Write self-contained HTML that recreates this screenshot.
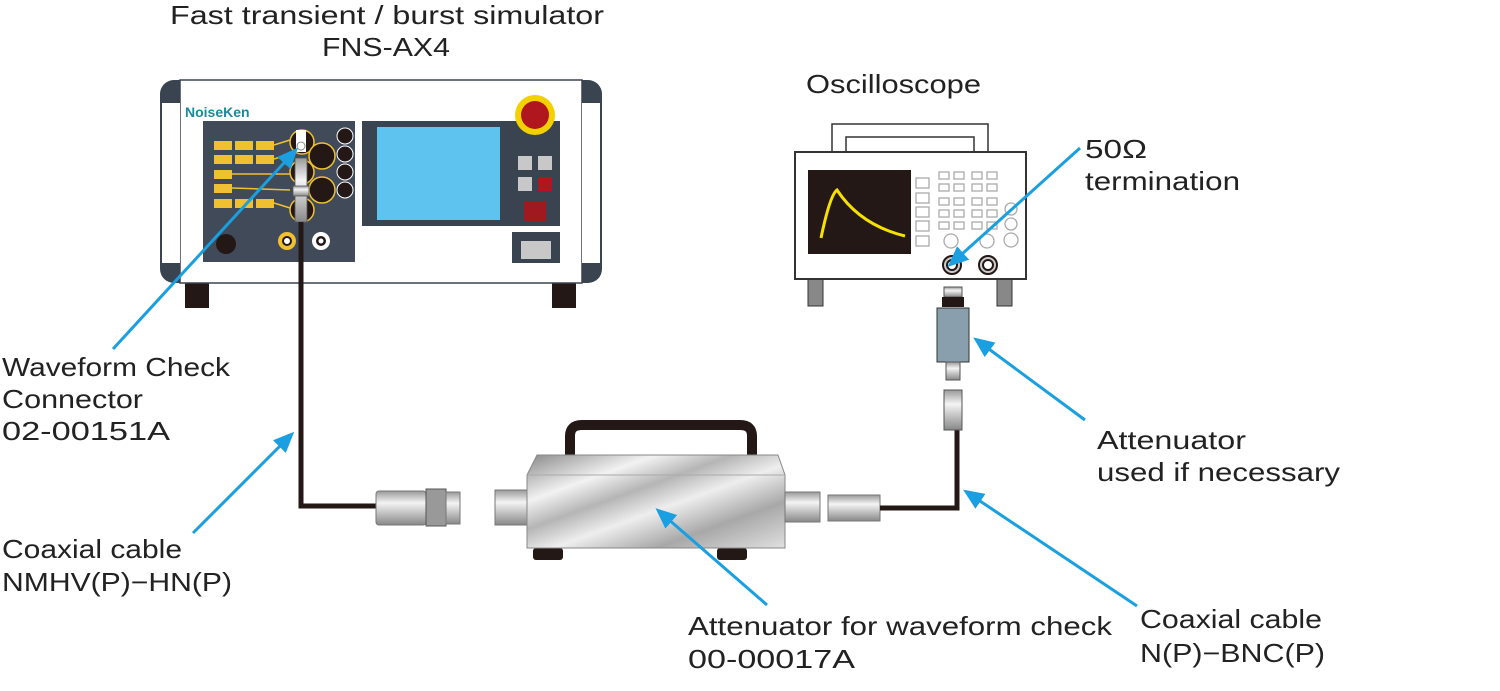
<!DOCTYPE html>
<html><head><meta charset="utf-8"><style>
html,body{margin:0;padding:0;background:#fff;}
svg{display:block;}
text{font-family:"Liberation Sans",sans-serif;font-size:26px;fill:#222;}
</style></head><body>
<svg width="1500" height="691" viewBox="0 0 1500 691" xmlns="http://www.w3.org/2000/svg">
<defs>
<linearGradient id="met" x1="0" y1="0" x2="1" y2="1">
<stop offset="0" stop-color="#8a8a8a"/><stop offset="0.25" stop-color="#f2f2f2"/><stop offset="0.4" stop-color="#b5b5b5"/><stop offset="0.55" stop-color="#eee"/><stop offset="0.75" stop-color="#a8a8a8"/><stop offset="1" stop-color="#e0e0e0"/>
</linearGradient>
<linearGradient id="cyl" x1="0" y1="0" x2="0" y2="1">
<stop offset="0" stop-color="#999"/><stop offset="0.35" stop-color="#f4f4f4"/><stop offset="1" stop-color="#888"/>
</linearGradient>
<marker id="ah" markerWidth="7" markerHeight="6" refX="5" refY="3" orient="auto" markerUnits="strokeWidth">
<path d="M0,0 L7,3 L0,6 Z" fill="#1a9fe0"/></marker>
</defs>

<!-- labels -->
<g style="font-size:27px" lengthAdjust="spacingAndGlyphs">
<text x="170" y="24" textLength="434" lengthAdjust="spacingAndGlyphs">Fast transient / burst simulator</text>
<text x="322" y="56" textLength="128" lengthAdjust="spacingAndGlyphs">FNS-AX4</text>
<text x="806" y="93" textLength="175" lengthAdjust="spacingAndGlyphs">Oscilloscope</text>
<text x="1085" y="158" textLength="62" lengthAdjust="spacingAndGlyphs">50Ω</text>
<text x="1085" y="190" textLength="155" lengthAdjust="spacingAndGlyphs">termination</text>
<text x="2" y="376" textLength="228" lengthAdjust="spacingAndGlyphs">Waveform Check</text>
<text x="2" y="408" textLength="141" lengthAdjust="spacingAndGlyphs">Connector</text>
<text x="2" y="440" textLength="168" lengthAdjust="spacingAndGlyphs">02-00151A</text>
<text x="2" y="558" textLength="180" lengthAdjust="spacingAndGlyphs">Coaxial cable</text>
<text x="2" y="591" textLength="230" lengthAdjust="spacingAndGlyphs">NMHV(P)−HN(P)</text>
<text x="688" y="635" textLength="424" lengthAdjust="spacingAndGlyphs">Attenuator for waveform check</text>
<text x="688" y="668" textLength="167" lengthAdjust="spacingAndGlyphs">00-00017A</text>
<text x="1140" y="628" textLength="182" lengthAdjust="spacingAndGlyphs">Coaxial cable</text>
<text x="1140" y="662" textLength="185" lengthAdjust="spacingAndGlyphs">N(P)−BNC(P)</text>
<text x="1097" y="449" textLength="149" lengthAdjust="spacingAndGlyphs">Attenuator</text>
<text x="1097" y="481" textLength="243" lengthAdjust="spacingAndGlyphs">used if necessary</text>
</g>

<!-- simulator -->
<rect x="185" y="282" width="24" height="26" fill="#231815"/>
<rect x="552" y="282" width="24" height="26" fill="#231815"/>
<rect x="160" y="80" width="442" height="203" rx="14" fill="#3a4350"/>
<rect x="180" y="80" width="402" height="203" fill="#fff" stroke="#3a4350" stroke-width="1.5"/>
<rect x="162" y="103" width="18" height="160" fill="#fff"/>
<rect x="582" y="103" width="18" height="160" fill="#fff"/>
<text x="185" y="117" style="font-size:14px;font-weight:bold;fill:#1b8a9a">NoiseKen</text>
<rect x="203" y="121" width="152" height="141" fill="#404a58"/>
<g fill="#f0c030">
<rect x="214" y="141" width="18" height="9"/><rect x="235" y="141" width="18" height="9"/><rect x="256" y="141" width="18" height="9"/>
<rect x="214" y="155" width="18" height="9"/><rect x="235" y="155" width="18" height="9"/><rect x="256" y="155" width="18" height="9"/>
<rect x="214" y="170" width="18" height="9"/><rect x="214" y="184" width="18" height="9"/>
<rect x="214" y="199" width="18" height="9"/><rect x="235" y="199" width="18" height="9"/><rect x="256" y="199" width="18" height="9"/>
</g>
<path d="M274,145 L290,140 M274,159 L290,154 M232,174 L290,174 M232,188 L290,190 M274,203 L290,208" stroke="#f0c030" stroke-width="1.5" fill="none"/>
<g fill="#231815" stroke="#f0c030" stroke-width="1.5">
<circle cx="302" cy="142" r="12"/><circle cx="322" cy="156" r="13"/><circle cx="302" cy="172" r="12"/><circle cx="322" cy="190" r="13"/><circle cx="302" cy="210" r="12"/>
</g>
<g fill="#231815" stroke="#fff" stroke-width="1"><circle cx="345" cy="136" r="8"/><circle cx="345" cy="154" r="8"/><circle cx="345" cy="172" r="8"/><circle cx="345" cy="190" r="8"/></g>
<circle cx="226" cy="244" r="10" fill="#231815"/>
<circle cx="287" cy="241" r="9" fill="#f0c030"/><circle cx="287" cy="241" r="4" fill="#fff" stroke="#231815" stroke-width="2"/>
<circle cx="321" cy="241" r="9" fill="#fff"/><circle cx="321" cy="241" r="5" fill="#231815"/><circle cx="321" cy="241" r="2.5" fill="#fff"/>
<rect x="296" y="130" width="10" height="22" fill="#fff"/><circle cx="301" cy="146" r="4" fill="#fff" stroke="#888"/>
<rect x="295" y="158" width="12" height="64" fill="url(#cyl)" stroke="#555" stroke-width="0.8"/>
<rect x="293" y="186" width="16" height="10" fill="url(#cyl)" stroke="#555" stroke-width="0.8"/>
<rect x="362" y="121" width="198" height="105" fill="#3a4350"/>
<rect x="377" y="127" width="123" height="93" fill="#5ec4ef"/>
<circle cx="535" cy="115" r="20" fill="#f3d000"/><circle cx="535" cy="115" r="14" fill="#b0161e"/>
<rect x="518" y="156" width="14" height="14" fill="#c8c8c8"/><rect x="538" y="156" width="14" height="14" fill="#c8c8c8"/>
<rect x="518" y="177" width="14" height="14" fill="#c8c8c8"/><rect x="538" y="177" width="14" height="14" fill="#b0161e"/>
<rect x="524" y="201" width="22" height="20" fill="#a01820"/>
<rect x="512" y="232" width="48" height="31" fill="#3a4350"/><rect x="521" y="241" width="30" height="18" fill="#c8c8c8"/>

<!-- left cable -->
<path d="M301,222 L301,506 L378,506" stroke="#231815" stroke-width="5" fill="none"/>
<rect x="376" y="491" width="50" height="34" rx="3" fill="url(#cyl)" stroke="#777"/>
<rect x="426" y="489" width="20" height="37" fill="#999" stroke="#555"/>
<rect x="446" y="492" width="14" height="32" fill="url(#cyl)" stroke="#777"/>

<!-- attenuator -->
<path d="M570,462 L570,436 Q570,425 582,425 L740,425 Q752,425 752,436 L752,462" stroke="#231815" stroke-width="10" fill="none"/>
<rect x="533" y="548" width="30" height="12" rx="3" fill="#231815"/><rect x="717" y="548" width="30" height="12" rx="3" fill="#231815"/>
<rect x="495" y="490" width="35" height="35" fill="url(#cyl)" stroke="#777"/>
<path d="M537,455 L778,455 L785,475 L785,548 L527,548 L527,475 Z" fill="url(#met)" stroke="#888"/>
<line x1="527" y1="475" x2="785" y2="475" stroke="#aaa"/>
<rect x="785" y="492" width="35" height="30" fill="url(#cyl)" stroke="#777"/>
<rect x="828" y="495" width="52" height="26" fill="url(#cyl)" stroke="#777"/>
<path d="M880,508 L957,508 L957,430" stroke="#231815" stroke-width="5" fill="none"/>

<!-- oscilloscope -->
<rect x="808" y="278" width="15" height="28" fill="#888" stroke="#333"/><rect x="997" y="278" width="15" height="28" fill="#888" stroke="#333"/>
<path d="M832,152 L832,124 L988,124 L988,152 M846,152 L846,137 L974,137 L974,152" stroke="#333" stroke-width="1.5" fill="none"/>
<rect x="795" y="152" width="231" height="127" fill="#fff" stroke="#333" stroke-width="2"/>
<rect x="808" y="170" width="103" height="84" fill="#231815"/>
<path d="M821,238 Q830,195 837,190 Q860,225 905,236" stroke="#f5e000" stroke-width="3" fill="none"/>
<g fill="none" stroke="#aaa" stroke-width="1.3">
<rect x="916" y="178" width="13" height="10"/><rect x="916" y="193" width="13" height="10"/><rect x="916" y="207" width="13" height="10"/><rect x="916" y="221" width="13" height="10"/><rect x="916" y="236" width="13" height="10"/>
<rect x="939" y="172" width="10" height="7"/><rect x="954" y="172" width="10" height="7"/><rect x="972" y="172" width="10" height="7"/><rect x="987" y="172" width="10" height="7"/>
<rect x="939" y="184" width="10" height="7"/><rect x="954" y="184" width="10" height="7"/><rect x="972" y="184" width="10" height="7"/><rect x="987" y="184" width="10" height="7"/>
<rect x="939" y="198" width="10" height="7"/><rect x="954" y="198" width="10" height="7"/><rect x="972" y="198" width="10" height="7"/><rect x="987" y="198" width="10" height="7"/>
<rect x="939" y="210" width="10" height="7"/><rect x="954" y="210" width="10" height="7"/><rect x="972" y="210" width="10" height="7"/><rect x="987" y="210" width="10" height="7"/>
<rect x="939" y="222" width="10" height="7"/><rect x="954" y="222" width="10" height="7"/><rect x="972" y="222" width="10" height="7"/><rect x="987" y="222" width="10" height="7"/>
<circle cx="951" cy="241" r="7"/><circle cx="987" cy="241" r="7"/><circle cx="1011" cy="209" r="6"/><circle cx="1011" cy="224" r="6"/><circle cx="1011" cy="240" r="7"/>
</g>
<circle cx="952" cy="265" r="9" fill="#ccc" stroke="#231815" stroke-width="2"/><circle cx="952" cy="265" r="5" fill="#fff" stroke="#231815" stroke-width="2"/>
<circle cx="988" cy="265" r="9" fill="#ccc" stroke="#231815" stroke-width="2"/><circle cx="988" cy="265" r="5" fill="#fff" stroke="#231815" stroke-width="2"/>
<rect x="944" y="287" width="18" height="10" fill="url(#cyl)" stroke="#555"/>
<rect x="942" y="297" width="22" height="10" fill="#231815"/>
<rect x="937" y="308" width="32" height="54" fill="#8a9fae" stroke="#333"/>
<rect x="946" y="362" width="14" height="18" fill="url(#cyl)" stroke="#555"/>
<rect x="944" y="390" width="18" height="40" fill="url(#cyl)" stroke="#555"/>

<!-- arrows -->
<g stroke="#1a9fe0" stroke-width="3" fill="none" marker-end="url(#ah)">
<line x1="113" y1="349" x2="294" y2="152"/>
<line x1="193" y1="533" x2="290" y2="436"/>
<line x1="767" y1="605" x2="660" y2="512"/>
<line x1="1137" y1="606" x2="968" y2="493"/>
<line x1="1085" y1="420" x2="978" y2="341"/>
<line x1="1080" y1="148" x2="952" y2="263"/>
</g>
</svg>
</body></html>
